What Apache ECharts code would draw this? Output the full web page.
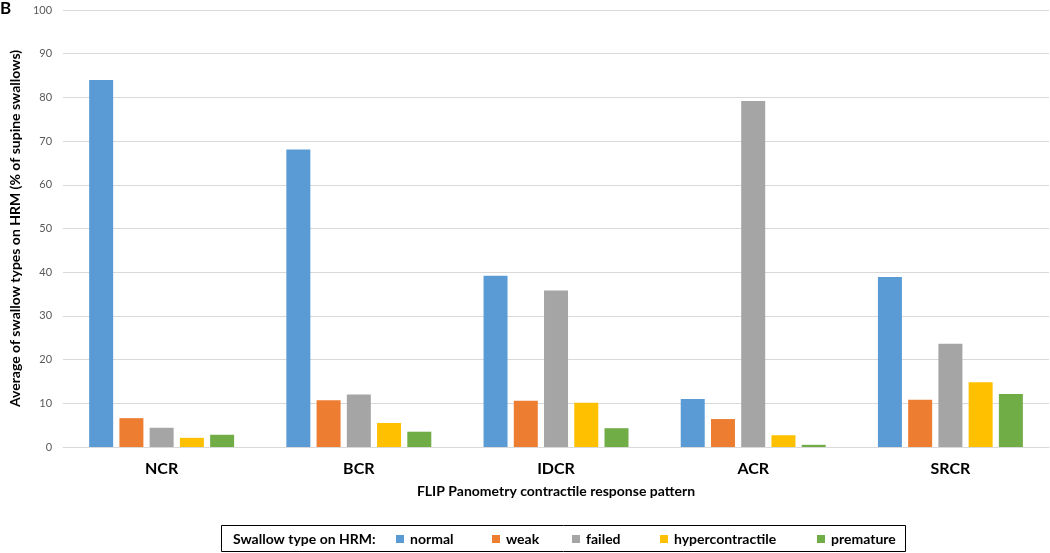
<!DOCTYPE html>
<html>
<head>
<meta charset="utf-8">
<script src="https://cdn.jsdelivr.net/npm/echarts@6/dist/echarts.min.js"></script>
<style>
html,body{margin:0;padding:0;background:#fff;}
#chart{width:1050px;height:553px;}
</style>
</head>
<body>
<div id="chart"></div>
<script>
const categories = ['NCR', 'BCR', 'IDCR', 'ACR', 'SRCR'];
const seriesNames = ['normal', 'weak', 'failed', 'hypercontractile', 'premature'];
const normal = [84.0, 68.1, 39.2, 11.0, 38.9];
const weak = [6.6, 10.7, 10.6, 6.4, 10.8];
const failed = [4.4, 12.0, 35.8, 79.2, 23.6];
const hypercontractile = [2.1, 5.5, 10.1, 2.7, 14.8];
const premature = [2.8, 3.5, 4.3, 0.5, 12.1];
const seriesValues = [normal, weak, failed, hypercontractile, premature];
const colors = ['#5B9BD5', '#ED7D31', '#A5A5A5', '#FFC000', '#70AD47'];
const yTicks = { min: 0, max: 100, interval: 10 };

const FONT = 'Lato';
const chart = echarts.init(document.getElementById('chart'), null, { renderer: 'canvas' });

const legendLefts = [396, 492, 572, 660, 817];
const legends = seriesNames.map((n, i) => ({
  data: [n],
  left: legendLefts[i],
  top: 531,
  padding: 0,
  itemWidth: 8,
  itemHeight: 8,
  icon: 'rect',
  selectedMode: false,
  textStyle: { fontFamily: FONT, fontSize: 14, fontWeight: 'bold', color: '#000', lineHeight: 16, padding: [0, 0, 0, 1] }
}));

chart.setOption({
  animation: false,
  backgroundColor: '#fff',
  color: colors,
  textStyle: { fontFamily: FONT },
  grid: { left: 59, right: 1, top: 10, bottom: 106 },
  legend: legends,
  graphic: [
    { type: 'text', left: 0, top: 0, style: { text: 'B', font: 'bold 17px ' + FONT, fill: '#000' } },
    { type: 'rect', shape: { x: 221.5, y: 525.5, width: 684, height: 26 }, style: { fill: 'none', stroke: '#000', lineWidth: 1 } },
    { type: 'text', x: 233, y: 539, style: { text: 'Swallow type on HRM:', font: 'bold 14px ' + FONT, fill: '#000', verticalAlign: 'middle', align: 'left' } }
  ],
  xAxis: {
    type: 'category',
    data: categories,
    name: 'FLIP Panometry contractile response pattern',
    nameLocation: 'middle',
    nameGap: 37,
    nameTextStyle: { fontFamily: FONT, fontSize: 14, fontWeight: 'bold', color: '#000' },
    axisLine: { lineStyle: { color: '#D9D9D9', width: 1 } },
    axisTick: { show: false },
    axisLabel: { fontFamily: FONT, fontSize: 16, fontWeight: 'bold', color: '#000', margin: 14 }
  },
  yAxis: {
    type: 'value',
    min: yTicks.min,
    max: yTicks.max,
    interval: yTicks.interval,
    name: 'Average of swallow types on HRM (% of supine swallows)',
    nameLocation: 'middle',
    nameGap: 31,
    nameTextStyle: { fontFamily: FONT, fontSize: 14, fontWeight: 'bold', color: '#000' },
    axisLine: { show: false },
    axisTick: { show: false },
    axisLabel: { fontFamily: FONT, fontSize: 11, color: '#595959', margin: 11 },
    splitLine: { lineStyle: { color: '#D9D9D9', width: 1 } }
  },
  series: seriesNames.map((n, i) => ({
    name: n,
    type: 'bar',
    data: seriesValues[i],
    barWidth: 24,
    barGap: '26%',
    itemStyle: { color: colors[i] }
  }))
});
</script>
</body>
</html>
